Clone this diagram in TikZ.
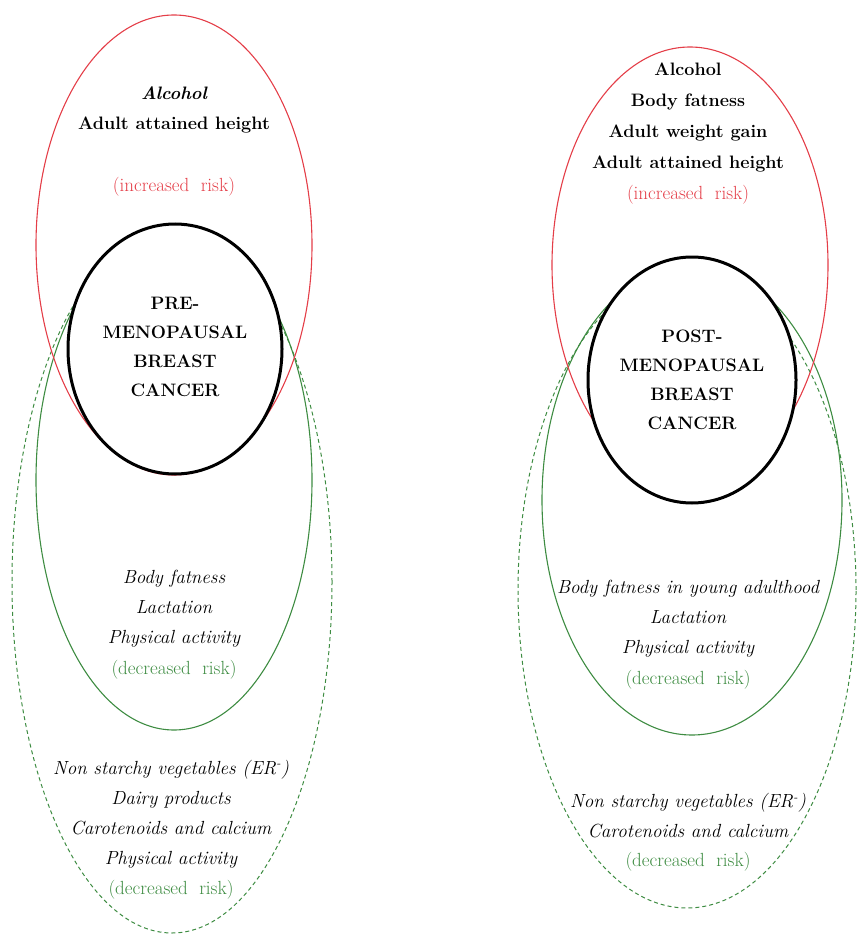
\documentclass[tikz,border=0pt]{standalone}
\usepackage{fontspec}
\usetikzlibrary{positioning}

\definecolor{riskred}{RGB}{228,62,72}
\definecolor{riskgreen}{RGB}{62,140,66}

\tikzset{
  upcircle/.style={draw=riskred,line width=1.1pt},
  downcircle/.style={draw=riskgreen,line width=1.1pt},
  downdashed/.style={draw=riskgreen,line width=1pt,dash pattern=on 4pt off 3pt},
  cancercircle/.style={draw=black,fill=white,line width=3pt},
  risktext/.style={align=center,inner sep=0pt,font=\fontsize{19}{30}\selectfont},
  cancertext/.style={risktext,font=\fontsize{18}{29}\selectfont\bfseries}
}

\begin{document}
\begin{tikzpicture}[x=1pt,y=-1pt]
        \useasboundingbox (0,0) rectangle (857,936);

        % draw the pre-menopausal side
        \draw[downdashed] (172,582) ellipse [x radius=160pt, y radius=351pt];
        \draw[downcircle] (174,480) ellipse [x radius=138pt, y radius=250pt];
        \draw[upcircle] (174,245) ellipse [x radius=138pt, y radius=230pt];
        \draw[cancercircle] (175,349) ellipse [x radius=107pt, y radius=125pt];

        % draw the post-menopausal side
        \draw[downdashed] (687,590) ellipse [x radius=169pt, y radius=318pt];
        \draw[downcircle] (692,500) ellipse [x radius=150pt, y radius=235pt];
        \draw[upcircle] (690,265) ellipse [x radius=138pt, y radius=218pt];
        \draw[cancercircle] (692,380) ellipse [x radius=104pt, y radius=123pt];

        % texts pre
        \node[risktext,font=\fontsize{18}{30}\selectfont\bfseries] (preup) at (174,110) {{\itshape Alcohol}\\Adult attained height};
        \node[risktext,text=riskred] (preupnote) at (174,187) {(increased~~risk)};
        \node[cancertext] (precancer) at (175,347) {PRE-\\MENOPAUSAL\\BREAST\\CANCER};
        \node[risktext] (predown) at (174,609) {\itshape Body fatness\\ \itshape Lactation\\ \itshape Physical activity};
        \node[risktext,text=riskgreen] (predownnote) at (174,670) {(decreased~~risk)};
        \node[risktext] (predash) at (171,814) {\itshape Non starchy vegetables (ER\textsuperscript{-})\\ \itshape Dairy products\\ \itshape Carotenoids and calcium\\ \itshape Physical activity};
        \node[risktext,text=riskgreen] (predashnote) at (171,890) {(decreased~~risk)};

        % texts post
        \node[risktext,font=\fontsize{18}{31}\selectfont\bfseries] (postup) at (688,118) {Alcohol\\Body fatness\\Adult weight gain\\Adult attained height};
        \node[risktext,text=riskred] (postupnote) at (688,195) {(increased~~risk)};
        \node[cancertext] (postcancer) at (692,380) {POST-\\MENOPAUSAL\\BREAST\\CANCER};
        \node[risktext] (postdown) at (688,619) {\itshape Body fatness in young adulthood\\ \itshape Lactation\\ \itshape Physical activity};
        \node[risktext,text=riskgreen] (postdownnote) at (688,680) {(decreased~~risk)};
        \node[risktext] (postdash) at (688,816) {\itshape Non starchy vegetables (ER\textsuperscript{-})\\ \itshape Carotenoids and calcium};
        \node[risktext,text=riskgreen] (postdashnote) at (688,862) {(decreased~~risk)};

    \end{tikzpicture}
\end{document}
